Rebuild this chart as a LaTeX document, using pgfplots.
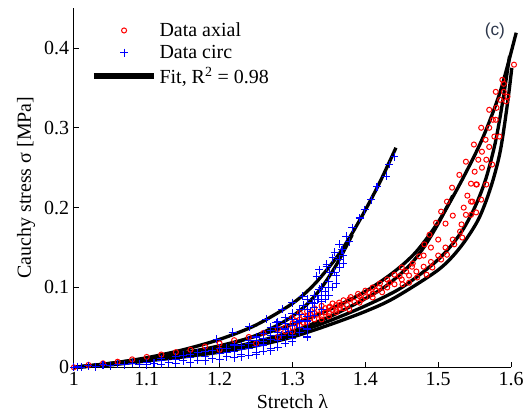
\documentclass[border=0pt]{standalone}
\usepackage{fontspec}
\setmainfont{Liberation Serif}
\newfontfamily\labelfont{Liberation Sans}
\usepackage{pgfplots}
\pgfplotsset{compat=1.18}

\definecolor{labelc}{RGB}{45,55,75}

\pgfplotsset{
    dataleg/.style={legend image code/.code={\path (0cm,0cm) (1.6cm,0cm); \draw[##1] plot coordinates {(0.8cm,0cm)};}},
    fitleg/.style={legend image code/.code={\draw[##1, line width=3.8pt] (0cm,0cm) -- (1.6cm,0cm);}},
    fit/.style={black, line width=2.5pt, smooth, tension=0.5},
}

\begin{document}
\begin{tikzpicture}
\begin{axis}[
    name=ax,
    scale only axis,
    width=328.5pt, height=270pt,
    xmin=1, xmax=1.6, ymin=0, ymax=0.45,
    axis x line*=bottom, axis y line*=left,
    clip=false,
    font=\fontsize{15}{18}\selectfont,
    xtick={1,1.1,1.2,1.3,1.4,1.5,1.6},
    xticklabels={1,1.1,1.2,1.3,1.4,1.5,1.6},
    ytick={0,0.1,0.2,0.3,0.4},
    yticklabels={0,0.1,0.2,0.3,0.4},
    tick align=inside,
    major tick length=4pt,
    tick style={black, line width=0.6pt},
    axis line style={line width=0.6pt},
    xlabel={Stretch λ},
    ylabel={Cauchy stress σ [MPa]},
    legend cell align=left,
    legend style={at={(0.03,0.975)}, anchor=north west, draw=none, fill=none,
        font=\fontsize{15}{18}\selectfont, row sep=1pt},
]
% --- Fits (drawn first, data on top)
\addplot[fit, forget plot]
coordinates {
(1,0) (1.05,0.005) (1.1,0.012) (1.15,0.022) (1.2,0.035) (1.25,0.053) (1.3,0.080)
(1.33,0.104) (1.36,0.137) (1.38,0.165) (1.40,0.197) (1.42,0.232) (1.442,0.275)
};
\addplot[fit, forget plot]
coordinates {
(1,0) (1.05,0.004) (1.1,0.009) (1.15,0.016) (1.2,0.025) (1.25,0.040) (1.28,0.053)
(1.30,0.064) (1.32,0.079) (1.34,0.100) (1.36,0.128) (1.382,0.166)
};
\addplot[fit, forget plot]
coordinates {
(1,0) (1.05,0.005) (1.1,0.011) (1.15,0.018) (1.2,0.027) (1.25,0.039) (1.3,0.054)
(1.35,0.072) (1.4,0.095) (1.44,0.120) (1.47,0.145) (1.5,0.182) (1.53,0.230)
(1.56,0.285) (1.585,0.345) (1.607,0.419)
};
\addplot[fit, forget plot]
coordinates {
(1,0) (1.05,0.004) (1.1,0.009) (1.15,0.015) (1.2,0.022) (1.25,0.032) (1.3,0.045)
(1.35,0.063) (1.4,0.086) (1.43,0.103) (1.46,0.127) (1.48,0.150) (1.5,0.180)
(1.52,0.215)
};
\addplot[fit, forget plot]
coordinates {
(1,0) (1.05,0.004) (1.1,0.009) (1.15,0.014) (1.2,0.021) (1.25,0.030) (1.3,0.042)
(1.35,0.058) (1.4,0.077) (1.45,0.100) (1.5,0.135) (1.53,0.167) (1.55,0.200)
(1.565,0.235) (1.578,0.280) (1.588,0.330) (1.598,0.390)
};
\addplot[fit, forget plot]
coordinates {
(1,0) (1.05,0.003) (1.1,0.008) (1.15,0.013) (1.2,0.019) (1.25,0.027) (1.3,0.038)
(1.35,0.053) (1.4,0.070) (1.44,0.087) (1.5,0.122) (1.53,0.150) (1.555,0.185)
(1.572,0.225) (1.585,0.270) (1.595,0.330) (1.601,0.375)
};
% --- Data axial (red circles)
\addplot[only marks, mark=o, red, mark size=1.9pt, mark options={draw=red, line width=0.75pt}, dataleg]
coordinates {
(1.0,0.0) (1.02,0.003) (1.04,0.005) (1.06,0.007) (1.08,0.010) (1.10,0.013)
(1.12,0.016) (1.14,0.019) (1.16,0.022) (1.18,0.026) (1.20,0.030) (1.22,0.034)
(1.24,0.038) (1.26,0.043) (1.28,0.048) (1.29,0.050)
(1.20,0.022) (1.25,0.030) (1.28,0.038) (1.30,0.045)
(1.30,0.055) (1.31,0.060) (1.32,0.064) (1.33,0.068) (1.31,0.052) (1.32,0.056)
(1.33,0.060) (1.34,0.064) (1.35,0.068) (1.34,0.071) (1.35,0.075) (1.36,0.078)
(1.30,0.062) (1.31,0.068) (1.32,0.070) (1.33,0.074) (1.34,0.077) (1.315,0.064)
(1.325,0.066) (1.345,0.069) (1.355,0.072) (1.365,0.074)
(1.29,0.045) (1.30,0.050) (1.305,0.058) (1.315,0.056) (1.325,0.062) (1.335,0.066)
(1.34,0.060) (1.345,0.074) (1.35,0.064) (1.355,0.080) (1.36,0.072) (1.365,0.078)
(1.37,0.084) (1.37,0.074) (1.375,0.078) (1.38,0.088) (1.385,0.082) (1.39,0.092)
(1.395,0.085) (1.40,0.096) (1.40,0.088) (1.41,0.100) (1.41,0.092) (1.415,0.096)
(1.42,0.105) (1.43,0.100) (1.43,0.110) (1.44,0.104) (1.44,0.116) (1.45,0.110)
(1.45,0.125) (1.46,0.115) (1.465,0.130) (1.47,0.120) (1.48,0.140) (1.48,0.126)
(1.49,0.132) (1.49,0.150) (1.50,0.140) (1.50,0.160) (1.51,0.150) (1.51,0.180)
(1.52,0.160) (1.52,0.190) (1.53,0.170) (1.535,0.200) (1.54,0.215) (1.545,0.230)
(1.55,0.245) (1.555,0.260) (1.56,0.270) (1.565,0.285) (1.57,0.300) (1.575,0.310)
(1.58,0.325) (1.585,0.335) (1.59,0.355) (1.588,0.360)
(1.351,0.076) (1.360,0.069) (1.364,0.081) (1.378,0.0725) (1.378,0.085)
(1.392,0.081) (1.392,0.089) (1.405,0.094) (1.410,0.0875) (1.419,0.100)
(1.423,0.094) (1.433,0.106) (1.447,0.114) (1.451,0.104) (1.456,0.120)
(1.460,0.106) (1.464,0.126) (1.471,0.1125) (1.474,0.139) (1.481,0.154)
(1.484,0.116) (1.488,0.166) (1.492,0.125) (1.497,0.181) (1.504,0.135)
(1.504,0.195) (1.512,0.141) (1.512,0.2075) (1.519,0.225) (1.522,0.154)
(1.529,0.241) (1.532,0.179) (1.533,0.1625) (1.538,0.191) (1.538,0.2575)
(1.545,0.191) (1.545,0.2075) (1.547,0.2075) (1.549,0.279) (1.552,0.194)
(1.552,0.229) (1.553,0.229) (1.559,0.210) (1.559,0.300) (1.560,0.250)
(1.566,0.229) (1.566,0.260) (1.570,0.276) (1.570,0.3225) (1.574,0.254)
(1.577,0.289) (1.579,0.310) (1.579,0.345) (1.584,0.289) (1.590,0.345)
(1.593,0.333) (1.595,0.339) (1.604,0.379)
};
\addlegendentry{Data axial}
% --- Data circ (blue plus)
\addplot[only marks, mark=+, blue, mark size=3pt, mark options={draw=blue, line width=0.8pt}, dataleg]
coordinates {
(1.0,0.0) (1.005,0.001) (1.01,0.0) (1.02,0.002) (1.03,0.001) (1.04,0.003)
(1.05,0.002) (1.06,0.004) (1.07,0.003) (1.08,0.005) (1.09,0.004) (1.10,0.006)
(1.11,0.005) (1.12,0.008) (1.13,0.006) (1.14,0.010) (1.15,0.008) (1.16,0.012)
(1.17,0.009) (1.18,0.014) (1.19,0.011) (1.20,0.017) (1.21,0.013) (1.22,0.020)
(1.23,0.016) (1.24,0.024) (1.25,0.019) (1.26,0.028) (1.27,0.024) (1.28,0.034)
(1.29,0.030) (1.30,0.040) (1.31,0.044) (1.32,0.048)
(1.15,0.015) (1.18,0.020) (1.20,0.024) (1.22,0.028) (1.24,0.034) (1.25,0.038)
(1.26,0.042) (1.27,0.046) (1.28,0.050) (1.29,0.055) (1.30,0.060) (1.31,0.066)
(1.32,0.072) (1.33,0.080) (1.34,0.090) (1.31,0.050) (1.32,0.058) (1.33,0.065)
(1.34,0.072) (1.345,0.085) (1.35,0.100)
(1.12,0.011) (1.14,0.013) (1.16,0.016) (1.17,0.018) (1.19,0.021) (1.21,0.024)
(1.21,0.018) (1.23,0.027) (1.23,0.022) (1.24,0.030) (1.25,0.034) (1.25,0.026)
(1.26,0.036) (1.26,0.032) (1.27,0.040) (1.27,0.035) (1.27,0.050) (1.28,0.044)
(1.28,0.057) (1.285,0.040) (1.29,0.048) (1.29,0.062) (1.295,0.045) (1.30,0.052)
(1.30,0.068) (1.305,0.056) (1.31,0.072) (1.31,0.058) (1.315,0.078) (1.32,0.064)
(1.32,0.085) (1.325,0.070) (1.33,0.090) (1.33,0.075) (1.335,0.085) (1.34,0.100)
(1.34,0.082) (1.345,0.095) (1.35,0.108) (1.35,0.090) (1.355,0.100) (1.36,0.115)
(1.36,0.105) (1.365,0.125) (1.37,0.140) (1.37,0.130)
(1.10,0.003) (1.12,0.004) (1.14,0.005) (1.16,0.006) (1.18,0.008) (1.20,0.010)
(1.22,0.012) (1.24,0.015) (1.26,0.020) (1.28,0.025) (1.30,0.032) (1.32,0.038)
(1.30,0.036) (1.25,0.016) (1.23,0.013) (1.27,0.021)
(1.196,0.035) (1.218,0.044) (1.241,0.051) (1.264,0.060) (1.278,0.056)
(1.286,0.0725) (1.300,0.081) (1.314,0.089) (1.327,0.081) (1.337,0.0975)
(1.333,0.114) (1.337,0.1225) (1.347,0.126) (1.347,0.129) (1.351,0.119)
(1.355,0.1375) (1.358,0.119) (1.358,0.144) (1.364,0.135) (1.364,0.154)
(1.368,0.1475) (1.374,0.164) (1.378,0.157) (1.382,0.175) (1.392,0.187)
(1.399,0.1975) (1.408,0.210) (1.416,0.226) (1.429,0.239) (1.433,0.254)
(1.440,0.264)
};
\addlegendentry{Data circ}
\addlegendimage{fit, fitleg}
\addlegendentry{Fit, R\textsuperscript{2} = 0.98}
\node[font=\labelfont\fontsize{13}{15}\selectfont, text=labelc] at (rel axis cs:0.963,0.937) {(c)};
\end{axis}
\path (ax.south west) ++(-55.5pt,-37.5pt);
\path (ax.north east) ++(12pt,6pt);
\end{tikzpicture}
\end{document}
